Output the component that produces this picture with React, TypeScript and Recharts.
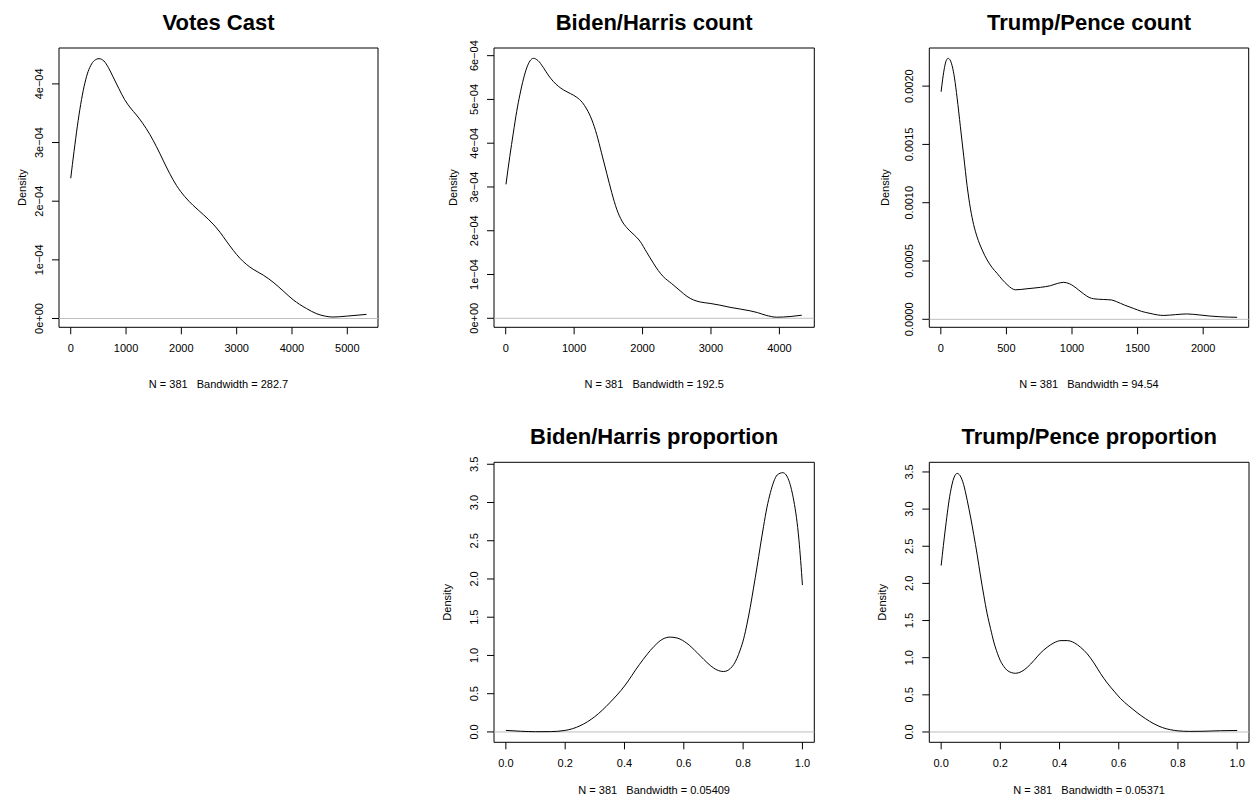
import React from 'react';
import { LineChart, Line, XAxis, YAxis, ReferenceLine, ReferenceArea } from 'recharts';

const FONT = '"Liberation Sans", Arial, Helvetica, sans-serif';

// density curves: [x, density]
const votesCastDensity: [number, number][] = [
  [0, 2.39e-4], [60, 2.85e-4], [120, 3.28e-4], [180, 3.65e-4], [240, 3.95e-4], [300, 4.17e-4],
  [360, 4.31e-4], [430, 4.4e-4], [512, 4.43e-4], [600, 4.39e-4], [680, 4.28e-4], [765, 4.12e-4],
  [870, 3.92e-4], [976, 3.73e-4], [1080, 3.59e-4], [1188, 3.47e-4], [1300, 3.33e-4], [1429, 3.14e-4],
  [1550, 2.93e-4], [1669, 2.7e-4], [1790, 2.47e-4], [1911, 2.27e-4], [2060, 2.08e-4], [2211, 1.93e-4],
  [2400, 1.77e-4], [2573, 1.61e-4], [2700, 1.47e-4], [2814, 1.32e-4], [2940, 1.16e-4], [3056, 1.03e-4],
  [3180, 0.92e-4], [3297, 0.84e-4], [3480, 0.74e-4], [3658, 0.62e-4], [3840, 0.47e-4], [4020, 0.32e-4],
  [4262, 0.17e-4], [4450, 0.08e-4], [4600, 0.04e-4], [4743, 0.025e-4], [4985, 0.04e-4], [5347, 0.07e-4],
];

const bidenCountDensity: [number, number][] = [
  [4, 3.06e-4], [60, 3.7e-4], [111, 4.23e-4], [160, 4.72e-4], [209, 5.12e-4], [260, 5.47e-4],
  [307, 5.72e-4], [355, 5.88e-4], [404, 5.94e-4], [470, 5.89e-4], [550, 5.73e-4], [620, 5.56e-4],
  [696, 5.41e-4], [770, 5.3e-4], [842, 5.22e-4], [950, 5.13e-4], [1038, 5.05e-4], [1120, 4.93e-4],
  [1184, 4.78e-4], [1260, 4.53e-4], [1330, 4.2e-4], [1400, 3.78e-4], [1477, 3.31e-4], [1550, 2.87e-4],
  [1623, 2.49e-4], [1700, 2.22e-4], [1769, 2.07e-4], [1860, 1.93e-4], [1963, 1.76e-4], [2060, 1.51e-4],
  [2158, 1.26e-4], [2230, 1.09e-4], [2304, 0.95e-4], [2420, 0.8e-4], [2548, 0.63e-4], [2650, 0.5e-4],
  [2743, 0.42e-4], [2850, 0.37e-4], [2987, 0.34e-4], [3130, 0.3e-4], [3279, 0.25e-4], [3430, 0.21e-4],
  [3572, 0.17e-4], [3680, 0.13e-4], [3800, 0.07e-4], [3962, 0.025e-4], [4156, 0.04e-4], [4327, 0.07e-4],
];

const trumpCountDensity: [number, number][] = [
  [2, 0.001952], [14, 0.00206], [28, 0.00216], [42, 0.002222], [56, 0.002238], [70, 0.002225],
  [86, 0.002175], [104, 0.00207], [124, 0.0019], [149, 0.001652], [175, 0.001394], [200, 0.001147],
  [226, 0.000947], [250, 0.000812], [276, 0.000708], [315, 0.000595], [353, 0.000509], [390, 0.000445],
  [429, 0.000394], [470, 0.000338], [505, 0.000298], [540, 0.000265], [568, 0.000253], [610, 0.000256],
  [657, 0.000262], [710, 0.000268], [759, 0.000274], [835, 0.000288], [890, 0.000308], [937, 0.000317],
  [980, 0.000305], [1013, 0.000284], [1050, 0.000252], [1089, 0.000218], [1130, 0.000188],
  [1165, 0.000176], [1238, 0.00017], [1300, 0.000166], [1340, 0.000151], [1400, 0.000122],
  [1467, 0.000094], [1530, 0.000068], [1594, 0.000051], [1650, 0.000038], [1695, 0.000033],
  [1790, 0.00004], [1873, 0.000046], [1975, 0.000037], [2050, 0.000028], [2127, 0.000022], [2259, 0.000017],
];

const bidenPropDensity: [number, number][] = [
  [0, 0.02], [0.05, 0.009], [0.1, 0.003], [0.15, 0.004], [0.2, 0.02], [0.25, 0.08], [0.3, 0.2],
  [0.35, 0.38], [0.4, 0.6], [0.45, 0.88], [0.5, 1.12], [0.527, 1.21], [0.554, 1.24], [0.58, 1.225],
  [0.61, 1.16], [0.644, 1.04], [0.667, 0.95], [0.689, 0.87], [0.712, 0.81], [0.734, 0.79],
  [0.746, 0.8], [0.757, 0.83], [0.768, 0.88], [0.779, 0.96], [0.79, 1.07], [0.802, 1.22],
  [0.813, 1.41], [0.824, 1.63], [0.835, 1.88], [0.847, 2.16], [0.858, 2.43], [0.869, 2.69],
  [0.88, 2.93], [0.892, 3.13], [0.903, 3.27], [0.915, 3.36], [0.934, 3.39], [0.945, 3.36],
  [0.954, 3.29], [0.963, 3.17], [0.971, 3.02], [0.98, 2.8], [0.988, 2.52], [0.994, 2.24], [1.0, 1.92],
];

const trumpPropDensity: [number, number][] = [
  [0, 2.24], [0.015, 2.76], [0.031, 3.22], [0.043, 3.42], [0.054, 3.48], [0.064, 3.45], [0.076, 3.33],
  [0.088, 3.12], [0.1, 2.88], [0.11, 2.66], [0.122, 2.38], [0.133, 2.1], [0.144, 1.84], [0.155, 1.6],
  [0.167, 1.39], [0.178, 1.21], [0.19, 1.06], [0.2, 0.96], [0.212, 0.88], [0.223, 0.83], [0.237, 0.8],
  [0.251, 0.79], [0.27, 0.81], [0.291, 0.87], [0.313, 0.96], [0.335, 1.06], [0.358, 1.14],
  [0.381, 1.2], [0.405, 1.23], [0.426, 1.23], [0.45, 1.2], [0.471, 1.14], [0.494, 1.05], [0.516, 0.93],
  [0.538, 0.79], [0.561, 0.66], [0.584, 0.55], [0.606, 0.45], [0.634, 0.35], [0.662, 0.26],
  [0.69, 0.18], [0.719, 0.11], [0.747, 0.06], [0.775, 0.03], [0.8, 0.015], [0.84, 0.008],
  [0.888, 0.01], [0.944, 0.017], [1.0, 0.02],
];

// ticks and their labels
const votesXTicks = [0, 1000, 2000, 3000, 4000, 5000];
const bidenCountXTicks = [0, 1000, 2000, 3000, 4000];
const trumpCountXTicks = [0, 500, 1000, 1500, 2000];
const propXTicks = [0, 0.2, 0.4, 0.6, 0.8, 1.0];
const propXLabels = ['0.0', '0.2', '0.4', '0.6', '0.8', '1.0'];

const votesYTicks = [0, 1e-4, 2e-4, 3e-4, 4e-4];
const votesYLabels = ['0e+00', '1e\u221204', '2e\u221204', '3e\u221204', '4e\u221204'];
const bidenCountYTicks = [0, 1e-4, 2e-4, 3e-4, 4e-4, 5e-4, 6e-4];
const bidenCountYLabels = ['0e+00', '1e\u221204', '2e\u221204', '3e\u221204', '4e\u221204', '5e\u221204', '6e\u221204'];
const trumpCountYTicks = [0, 0.0005, 0.001, 0.0015, 0.002];
const trumpCountYLabels = ['0.0000', '0.0005', '0.0010', '0.0015', '0.0020'];
const propYTicks = [0, 0.5, 1.0, 1.5, 2.0, 2.5, 3.0, 3.5];
const propYLabels = ['0.0', '0.5', '1.0', '1.5', '2.0', '2.5', '3.0', '3.5'];

type Box = { l: number; r: number; t: number; b: number };

type PanelProps = {
  title: string;
  subtitle: string;
  points: [number, number][];
  xTicks: number[];
  xLabels: string[];
  yTicks: number[];
  yLabels: string[];
  xDomain: [number, number];
  yDomain: [number, number];
  left: number;
  top: number;
  width: number;
  height: number;
  box: Box;
  ylabX: number;
  subY: number;
};

const XTick = (props: any) => {
  const { x, y, index, labels } = props;
  return (
    <text x={x} y={y + 8} textAnchor="middle" fontSize={11} fontFamily={FONT} fill="#000">
      {labels[index]}
    </text>
  );
};

const YTick = (props: any) => {
  const { x, y, index, labels } = props;
  return (
    <text
      transform={`translate(${x},${y}) rotate(-90)`}
      textAnchor="middle"
      fontSize={11}
      fontFamily={FONT}
      fill="#000"
    >
      {labels[index]}
    </text>
  );
};

const DensityPanel = (p: PanelProps) => {
  const data = p.points.map(([x, y]) => ({ x, y }));
  const cx = (p.box.l + p.box.r) / 2;
  const cy = (p.box.t + p.box.b) / 2;
  return (
    <div style={{ position: 'absolute', left: p.left, top: p.top, width: p.width, height: p.height }}>
      <LineChart
        width={p.width}
        height={p.height}
        data={data}
        margin={{ top: p.box.t, right: p.width - p.box.r, bottom: 0, left: 0 }}
      >
        <XAxis
          type="number"
          dataKey="x"
          domain={p.xDomain}
          ticks={p.xTicks}
          allowDataOverflow
          axisLine={false}
          tickLine={{ stroke: '#000' }}
          tickSize={7}
          tickMargin={10}
          height={p.height - p.box.b}
          interval={0}
          tick={(t: any) => <XTick {...t} labels={p.xLabels} />}
        />
        <YAxis
          type="number"
          dataKey="y"
          domain={p.yDomain}
          ticks={p.yTicks}
          allowDataOverflow
          axisLine={false}
          tickLine={{ stroke: '#000' }}
          tickSize={7}
          tickMargin={9}
          width={p.box.l}
          interval={0}
          tick={(t: any) => <YTick {...t} labels={p.yLabels} />}
        />
        <ReferenceLine y={0} stroke="#bebebe" strokeWidth={1} ifOverflow="visible" />
        <Line
          type="monotone"
          dataKey="y"
          stroke="#000"
          strokeWidth={1}
          dot={false}
          activeDot={false}
          isAnimationActive={false}
        />
        <ReferenceArea
          x1={p.xDomain[0]}
          x2={p.xDomain[1]}
          y1={p.yDomain[0]}
          y2={p.yDomain[1]}
          fill="none"
          fillOpacity={0}
          stroke="#000"
          strokeWidth={1}
          ifOverflow="visible"
        />
      </LineChart>
      <svg
        width={p.width}
        height={p.height}
        style={{ position: 'absolute', left: 0, top: 0, pointerEvents: 'none' }}
      >
        <text x={cx} y={p.box.t - 18.5} textAnchor="middle" fontSize={22} fontWeight="bold" fontFamily={FONT} fill="#000">
          {p.title}
        </text>
        <text x={cx} y={p.subY} textAnchor="middle" fontSize={11} fontFamily={FONT} fill="#000" style={{ whiteSpace: 'pre' }}>
          {p.subtitle}
        </text>
        <text
          transform={`translate(${p.ylabX},${cy}) rotate(-90)`}
          textAnchor="middle"
          fontSize={11}
          fontFamily={FONT}
          fill="#000"
        >
          Density
        </text>
      </svg>
    </div>
  );
};

export default function App() {
  return (
    <div style={{ position: 'absolute', left: 0, top: 0, width: 1257, height: 799, background: '#fff' }}>
      <DensityPanel
        title="Votes Cast"
        subtitle={'N = 381   Bandwidth = 282.7'}
        points={votesCastDensity}
        xTicks={votesXTicks}
        xLabels={votesXTicks.map(String)}
        yTicks={votesYTicks}
        yLabels={votesYLabels}
        xDomain={[-212, 5555]}
        yDomain={[-0.000015, 0.0004612]}
        left={0}
        top={0}
        width={419}
        height={400}
        box={{ l: 59, r: 378, t: 48, b: 327.3 }}
        ylabX={26}
        subY={388}
      />
      <DensityPanel
        title="Biden/Harris count"
        subtitle={'N = 381   Bandwidth = 192.5'}
        points={bidenCountDensity}
        xTicks={bidenCountXTicks}
        xLabels={bidenCountXTicks.map(String)}
        yTicks={bidenCountYTicks}
        yLabels={bidenCountYLabels}
        xDomain={[-171, 4510]}
        yDomain={[-0.0000206, 0.0006175]}
        left={419}
        top={0}
        width={419}
        height={400}
        box={{ l: 75, r: 395.3, t: 48, b: 327.3 }}
        ylabX={38}
        subY={388}
      />
      <DensityPanel
        title="Trump/Pence count"
        subtitle={'N = 381   Bandwidth = 94.54'}
        points={trumpCountDensity}
        xTicks={trumpCountXTicks}
        xLabels={trumpCountXTicks.map(String)}
        yTicks={trumpCountYTicks}
        yLabels={trumpCountYLabels}
        xDomain={[-88, 2347]}
        yDomain={[-0.0000686, 0.002327]}
        left={838}
        top={0}
        width={419}
        height={400}
        box={{ l: 91.3, r: 410.7, t: 48, b: 327.3 }}
        ylabX={51}
        subY={388}
      />
      <DensityPanel
        title="Biden/Harris proportion"
        subtitle={'N = 381   Bandwidth = 0.05409'}
        points={bidenPropDensity}
        xTicks={propXTicks}
        xLabels={propXLabels}
        yTicks={propYTicks}
        yLabels={propYLabels}
        xDomain={[-0.04, 1.04]}
        yDomain={[-0.1356, 3.5256]}
        left={419}
        top={400}
        width={419}
        height={399}
        box={{ l: 75, r: 395.3, t: 62.3, b: 342.3 }}
        ylabX={32}
        subY={394}
      />
      <DensityPanel
        title="Trump/Pence proportion"
        subtitle={'N = 381   Bandwidth = 0.05371'}
        points={trumpPropDensity}
        xTicks={propXTicks}
        xLabels={propXLabels}
        yTicks={propYTicks}
        yLabels={propYLabels}
        xDomain={[-0.04, 1.04]}
        yDomain={[-0.139, 3.63]}
        left={838}
        top={400}
        width={419}
        height={399}
        box={{ l: 91.3, r: 411, t: 62.3, b: 342.3 }}
        ylabX={48}
        subY={394}
      />
    </div>
  );
}
